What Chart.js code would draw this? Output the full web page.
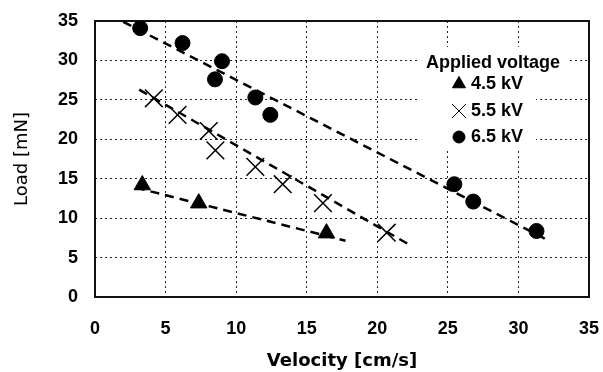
<!DOCTYPE html>
<html><head><meta charset="utf-8">
<script src="https://cdn.jsdelivr.net/npm/chart.js@4.4.0/dist/chart.umd.min.js"></script>
<style>html,body{margin:0;padding:0;background:#fff;}#wrap{width:603px;height:372px;position:relative;}</style>
</head><body><div id="wrap"><canvas id="c" width="603" height="372"></canvas></div>
<script>
const xTicks = [0, 5, 10, 15, 20, 25, 30, 35];
const yTicks = [0, 5, 10, 15, 20, 25, 30, 35];
const legendTitle = 'Applied voltage';
const seriesNames = ['4.5 kV', '5.5 kV', '6.5 kV'];
const v45 = [3.35, 7.35, 16.4];
const L45 = [14.2, 11.9, 8.1];
const v55 = [4.17, 5.85, 8.06, 8.53, 11.36, 13.3, 16.15, 20.67];
const L55 = [25.2, 23.1, 21.05, 18.6, 16.5, 14.3, 11.9, 8.15];
const v65 = [3.2, 6.2, 8.5, 9.0, 11.36, 12.42, 25.46, 26.8, 31.28];
const L65 = [34.1, 32.2, 27.6, 29.9, 25.3, 23.1, 14.3, 12.1, 8.37];
const trend45v = [2.9, 17.75], trend45L = [13.86, 7.14];
const trend55v = [3.13, 22.3], trend55L = [26.3, 6.6];
const trend65v = [2.0, 32.2], trend65L = [34.9, 7.1];

const pts = (xs, ys) => xs.map((x, i) => ({x: x, y: ys[i]}));
const FONT = '"Liberation Sans", Arial, sans-serif';
const TFONT = '"DejaVu Sans", sans-serif';
const markerStyles = [
  {pointStyle: 'triangle', radius: 9.5, rotation: 0, borderWidth: 1},
  {pointStyle: 'crossRot', radius: 12.5, rotation: 0, borderWidth: 1.5},
  {pointStyle: 'circle', radius: 7.5, rotation: 0, borderWidth: 1}
];
const legendMarkers = [
  {pointStyle: 'triangle', radius: 7.5, rotation: 0, borderWidth: 1},
  {pointStyle: 'crossRot', radius: 10, rotation: 0, borderWidth: 1.3},
  {pointStyle: 'circle', radius: 6, rotation: 0, borderWidth: 1}
];

function trendDs(xs, ys) {
  return {type: 'line', data: pts(xs, ys), showLine: true, borderColor: '#000', borderWidth: 2.5,
    borderDash: [9, 6], pointRadius: 0, fill: false, order: 2};
}
function markDs(xs, ys, k) {
  return {type: 'scatter', label: seriesNames[k], data: pts(xs, ys), pointStyle: markerStyles[k].pointStyle,
    pointRadius: markerStyles[k].radius, pointBorderWidth: markerStyles[k].borderWidth,
    backgroundColor: '#000', borderColor: '#000', order: 1};
}

const framePlugin = {
  id: 'frame',
  beforeDatasetsDraw(chart) {
    const {ctx, chartArea: a} = chart;
    ctx.save();
    ctx.strokeStyle = '#111'; ctx.lineWidth = 2; ctx.setLineDash([]);
    ctx.strokeRect(a.left, a.top, a.right - a.left, a.bottom - a.top);
    ctx.restore();
  },
  afterDraw(chart) {
    const {ctx} = chart;
    ctx.save();
    ctx.fillStyle = '#fff';
    ctx.fillRect(418, 47, 152, 27);
    ctx.fillRect(418, 74, 118, 76);
    ctx.fillStyle = '#000';
    ctx.font = 'bold 18px ' + FONT;
    ctx.textBaseline = 'middle';
    ctx.textAlign = 'center';
    ctx.fillText(legendTitle, 493, 63);
    const ys = [84, 111, 137];
    ctx.textAlign = 'left';
    for (let k = 0; k < 3; k++) {
      ctx.fillStyle = '#000'; ctx.strokeStyle = '#000';
      Chart.helpers.drawPoint(ctx, legendMarkers[k], 459, ys[k]);
      ctx.fillStyle = '#000';
      ctx.fillText(seriesNames[k], 471, ys[k]);
    }
    ctx.restore();
  }
};

new Chart(document.getElementById('c'), {
  type: 'scatter',
  data: {datasets: [
    markDs(v45, L45, 0), markDs(v55, L55, 1), markDs(v65, L65, 2),
    trendDs(trend45v, trend45L), trendDs(trend55v, trend55L), trendDs(trend65v, trend65L)
  ]},
  options: {
    responsive: false, animation: false, devicePixelRatio: 1,
    layout: {padding: {top: 21, right: 13, left: 0, bottom: 0}},
    plugins: {legend: {display: false}, tooltip: {enabled: false}},
    scales: {
      x: {
        type: 'linear', min: 0, max: 35,
        afterBuildTicks: s => { s.ticks = xTicks.map(v => ({value: v})); },
        afterFit: s => { s.height = 75; },
        ticks: {color: '#000', font: {family: FONT, size: 18, weight: 'bold'}, padding: 0},
        grid: {color: '#222', lineWidth: 1, drawTicks: true, tickLength: 21, tickColor: 'rgba(0,0,0,0)'},
        border: {display: false, dash: [2, 3]},
        title: {display: true, text: 'Velocity [cm/s]', color: '#000',
          font: {family: TFONT, size: 18, weight: 'bold'}, padding: {top: 0, bottom: 0}}
      },
      y: {
        type: 'linear', min: 0, max: 35,
        afterBuildTicks: s => { s.ticks = yTicks.map(v => ({value: v})); },
        afterFit: s => { s.width = 95; },
        ticks: {color: '#000', font: {family: FONT, size: 18, weight: 'bold'}, padding: 0},
        grid: {color: '#222', lineWidth: 1, drawTicks: true, tickLength: 17, tickColor: 'rgba(0,0,0,0)'},
        border: {display: false, dash: [2, 3]},
        title: {display: true, text: 'Load [mN]', color: '#000',
          font: {family: TFONT, size: 18, weight: 'normal'}, padding: {top: 12, bottom: 0}}
      }
    }
  },
  plugins: [framePlugin]
});
</script></body></html>
